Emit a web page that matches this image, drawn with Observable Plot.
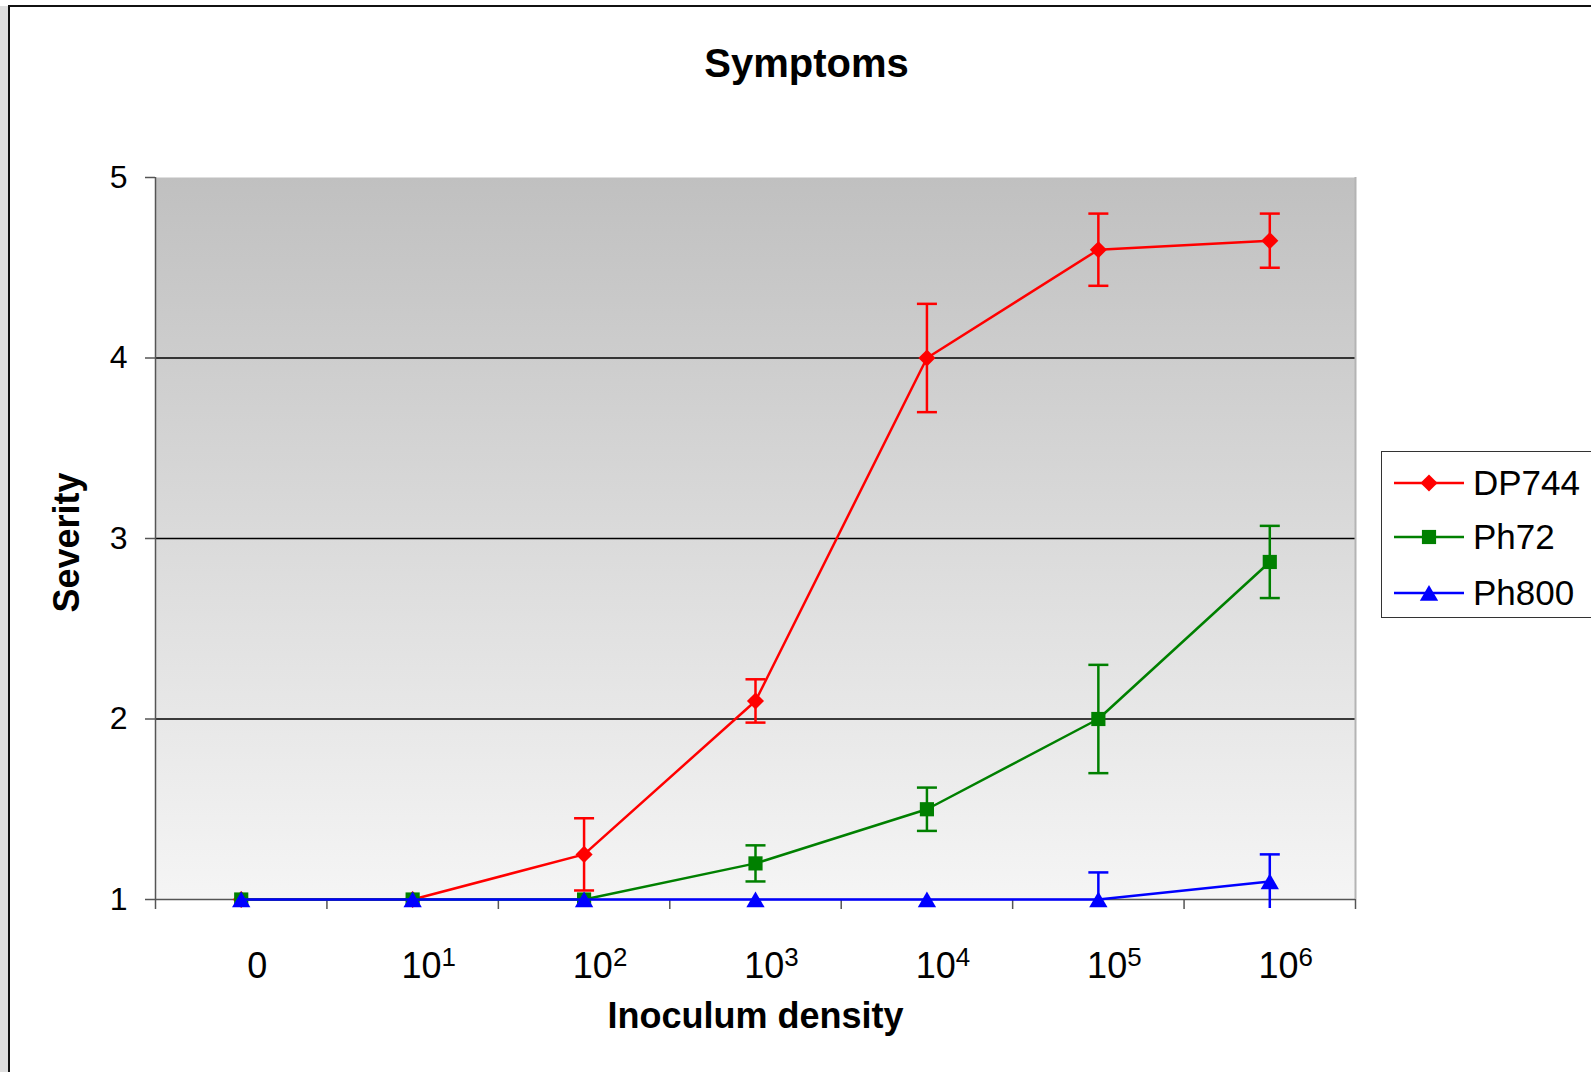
<!DOCTYPE html>
<html><head><meta charset="utf-8">
<script src="https://cdn.jsdelivr.net/npm/d3@7"></script>
<script src="https://cdn.jsdelivr.net/npm/@observablehq/plot@0.6"></script>
<style>
body{margin:0;background:#fff;font-family:"Liberation Sans",Arial,sans-serif;}
#wrap{position:relative;width:1591px;height:1072px;overflow:hidden;}
#side{position:absolute;left:0;top:6px;width:8px;height:1066px;background:#dedede;}
#frame{position:absolute;left:8px;top:5px;right:-10px;bottom:-10px;border-left:2px solid #111;border-top:2px solid #111;}
#chart{position:absolute;left:0;top:0;}
#legend{position:absolute;left:1381px;top:451px;width:230px;height:165px;border:1.5px solid #333;background:#fff;}
.lrow{position:absolute;left:0;height:50px;width:230px;}
.lrow svg{position:absolute;left:0;top:0;}
.lrow span{position:absolute;left:91px;top:6px;font-size:35px;line-height:38px;color:#000;}
</style></head><body>
<div id="wrap"><div id="side"></div><div id="frame"></div><div id="chart"></div><div id="legend"></div></div>
<script>
// ---- data ----
const categories = ["0","10^1","10^2","10^3","10^4","10^5","10^6"];
const seriesNames = ["DP744","Ph72","Ph800"];
const dp744 = [1, 1, 1.25, 2.1, 4.0, 4.6, 4.65];
const dp744Plus = [0, 0, 0.2, 0.12, 0.3, 0.2, 0.15];
const dp744Minus = [0, 0, 0.2, 0.12, 0.3, 0.2, 0.15];
const ph72 = [1, 1, 1, 1.2, 1.5, 2.0, 2.87];
const ph72Plus = [0, 0, 0, 0.1, 0.12, 0.3, 0.2];
const ph72Minus = [0, 0, 0, 0.1, 0.12, 0.3, 0.2];
const ph800 = [1, 1, 1, 1, 1, 1, 1.1];
const ph800Plus = [0, 0, 0, 0, 0, 0.15, 0.15];
const ph800Minus = [0, 0, 0, 0, 0, 0, 0.15];
const yTicks = [1, 2, 3, 4, 5];
const gridValues = [2, 3, 4];
const colors = ["#ff0000", "#008000", "#0000ff"];
const symbolNames = ["diamond2", "square", "triangle"];
const symbolR = [7.7, 8, 6.8];

const values = [dp744, ph72, ph800];
const plus = [dp744Plus, ph72Plus, ph800Plus];
const minus = [dp744Minus, ph72Minus, ph800Minus];

const rows = [];
seriesNames.forEach((s, k) => categories.forEach((c, i) => {
  rows.push({series: s, k, x: i + 0.5, y: values[k][i], hi: values[k][i] + plus[k][i], lo: values[k][i] - minus[k][i], p: plus[k][i], m: minus[k][i]});
}));

const capSymbol = {draw(ctx, size) { const w = Math.sqrt(size); ctx.moveTo(-w / 2, 0); ctx.lineTo(w / 2, 0); }};
const gradId = "plotBgGrad";

const seriesMarks = [];
seriesNames.forEach((s, k) => {
  const d = rows.filter(r => r.series === s);
  const err = d.filter(r => r.p > 0 || r.m > 0);
  seriesMarks.push(
    Plot.ruleX(err, {x: "x", y1: "lo", y2: "hi", stroke: colors[k], strokeWidth: 2.5}),
    Plot.dot(err.filter(r => r.p > 0), {x: "x", y: "hi", symbol: capSymbol, r: 11.3, stroke: colors[k], fill: "none", strokeWidth: 2.5}),
    Plot.dot(err.filter(r => r.m > 0 && r.lo >= 1), {x: "x", y: "lo", symbol: capSymbol, r: 11.3, stroke: colors[k], fill: "none", strokeWidth: 2.5}),
    Plot.line(d, {x: "x", y: "y", stroke: colors[k], strokeWidth: 2.5}),
    Plot.dot(d, {x: "x", y: "y", symbol: symbolNames[k], r: symbolR[k], fill: colors[k], stroke: "none", dy: k === 2 ? 2.5 : 0})
  );
});

const plot = Plot.plot({
  width: 1591, height: 1072,
  marginLeft: 155, marginRight: 236, marginTop: 177, marginBottom: 173,
  style: {fontFamily: '"Liberation Sans", Arial, sans-serif', background: "transparent", overflow: "visible", color: "#000"},
  x: {type: "linear", domain: [0, categories.length]},
  y: {domain: [1, 5]},
  marks: [
    Plot.frame({fill: `url(#${gradId})`, stroke: null}),
    Plot.ruleY(gridValues, {stroke: "#000", strokeWidth: 1.3}),
    Plot.ruleX([categories.length], {stroke: "#b4b4b4", strokeWidth: 2}),
    Plot.axisY({ticks: yTicks, tickSize: 10, tickPadding: 18, fontSize: 32, stroke: "#555", strokeWidth: 1.5, label: null, tickFormat: d3.format("d")}),
    Plot.axisX({ticks: d3.range(0, categories.length + 1), tickSize: 10, tickFormat: () => "", label: null, stroke: "#555", strokeWidth: 1.5}),
    Plot.axisX({ticks: categories.map((c, i) => i + 0.5), tickSize: 0, tickPadding: 53, fontSize: 36, dx: 16, tickFormat: d => categories[Math.floor(d)], label: null}),
    Plot.ruleX([0], {stroke: "#555", strokeWidth: 1.5}),
    Plot.ruleY([1], {stroke: "#555", strokeWidth: 1.5}),
    ...seriesMarks,
    Plot.text(["Symptoms"], {frameAnchor: "top", dx: 51, dy: -129, lineAnchor: "top", fontSize: 40, fontWeight: "bold", fill: "#000"}),
    Plot.text(["Inoculum density"], {frameAnchor: "bottom", dy: 103, lineAnchor: "top", fontSize: 36, fontWeight: "bold", fill: "#000"}),
    Plot.text(["Severity"], {frameAnchor: "left", dx: -88, dy: 4, rotate: -90, textAnchor: "middle", lineAnchor: "middle", fontSize: 36, fontWeight: "bold", fill: "#000"})
  ]
});

// gradient background for the plot area
const svgSel = d3.select(plot);
const defs = svgSel.insert("defs", ":first-child");
const grad = defs.append("linearGradient").attr("id", gradId).attr("x1", 0).attr("y1", 0).attr("x2", 0).attr("y2", 1);
grad.append("stop").attr("offset", "0%").attr("stop-color", "#c0c0c0");
grad.append("stop").attr("offset", "100%").attr("stop-color", "#f5f5f5");

// superscripts in tick labels
const svgNS = "http://www.w3.org/2000/svg";
plot.querySelectorAll("text").forEach(t => {
  const s = t.textContent;
  if (s.includes("^")) {
    const [b, e] = s.split("^");
    t.textContent = b;
    const ts = document.createElementNS(svgNS, "tspan");
    ts.setAttribute("dy", "-0.45em");
    ts.setAttribute("font-size", "0.72em");
    ts.textContent = e;
    t.appendChild(ts);
  }
});
document.getElementById("chart").appendChild(plot);

// legend
const legend = document.getElementById("legend");
const rowTops = [6, 60, 116];
seriesNames.forEach((s, k) => {
  const row = document.createElement("div");
  row.className = "lrow";
  row.style.top = rowTops[k] + "px";
  const sym = d3.symbol(d3["symbol" + symbolNames[k][0].toUpperCase() + symbolNames[k].slice(1)], Math.PI * symbolR[k] * symbolR[k])();
  row.innerHTML = `<svg width="90" height="50"><line x1="12" x2="82" y1="25" y2="25" stroke="${colors[k]}" stroke-width="2.5"/><path d="${sym}" transform="translate(47,${k === 2 ? 27.5 : 25})" fill="${colors[k]}"/></svg><span>${s}</span>`;
  legend.appendChild(row);
});
</script>
</body></html>
